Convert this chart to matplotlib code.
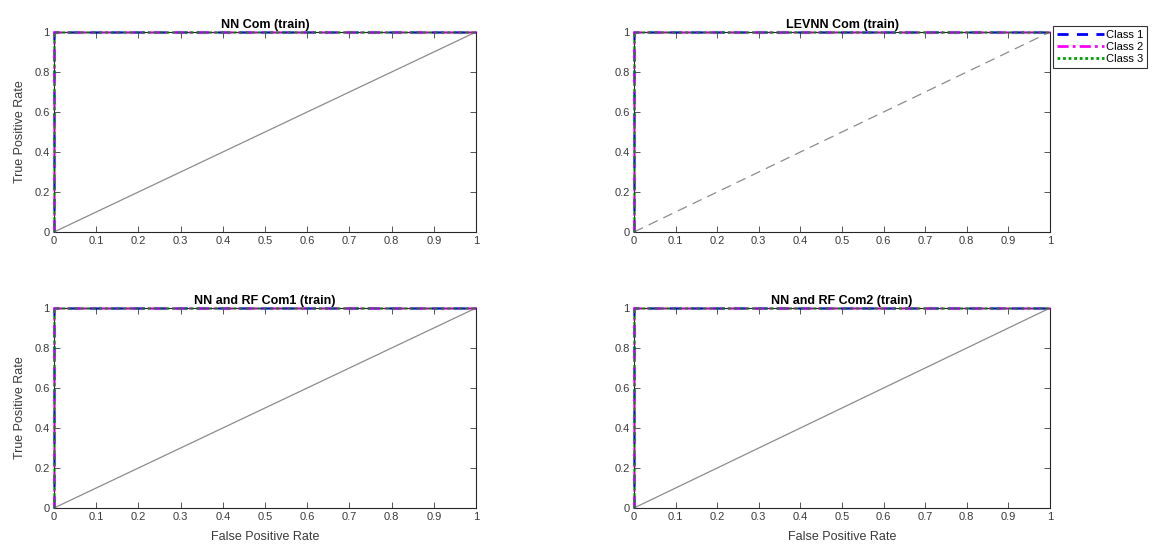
import matplotlib
matplotlib.use("Agg")
import matplotlib.pyplot as plt

plt.rcParams['font.family'] = ['Liberation Sans', 'DejaVu Sans']

titles = ["NN Com (train)", "LEVNN Com (train)", "NN and RF Com1 (train)", "NN and RF Com2 (train)"]
class_names = ["Class 1", "Class 2", "Class 3"]
fpr = [0.0, 0.0, 1.0]
tpr = [0.0, 1.0, 1.0]
diag_x = [0.0, 1.0]
diag_y = [0.0, 1.0]
diag_styles = ["-", "--", "-", "-"]
xticks = [0, 0.1, 0.2, 0.3, 0.4, 0.5, 0.6, 0.7, 0.8, 0.9, 1]
yticks = [0, 0.2, 0.4, 0.6, 0.8, 1]

colors = ["#0000ff", "#ff00ff", "#00a000"]
styles = [(0, (4, 3)), (0, (4, 1.5, 1, 1.5)), (0, (1, 1))]

W, H = 1173, 554
fig = plt.figure(figsize=(W / 100, H / 100), dpi=100)
boxes = [
    (54, 32, 476, 232),
    (634, 32, 1050, 232),
    (54, 308, 476, 508),
    (634, 308, 1050, 508),
]
txtc = "#3a3a3a"
handles = []
for i, (x0, y0, x1, y1) in enumerate(boxes):
    ax = fig.add_axes([x0 / W, 1 - y1 / H, (x1 - x0) / W, (y1 - y0) / H])
    if diag_styles[i] == "--":
        ax.plot(diag_x, diag_y, color="#8c8c8c", lw=0.9, ls=(0, (8, 5)))
    else:
        ax.plot(diag_x, diag_y, color="#8c8c8c", lw=0.9, ls="-")
    for c, col, st in zip(class_names, colors, styles):
        ax.plot(fpr, tpr, color=col, ls=st, lw=2.2, label=c,
                clip_on=False, zorder=3, alpha=0.6)
    ax.set_xlim(0, 1)
    ax.set_ylim(0, 1)
    ax.set_xticks(xticks)
    ax.set_xticklabels([f"{t:g}" for t in xticks])
    ax.set_yticks(yticks)
    ax.set_yticklabels([f"{t:g}" for t in yticks])
    ax.tick_params(direction="in", top=True, right=True, labelsize=8,
                   colors=txtc, length=4, width=0.6, pad=3)
    for s in ax.spines.values():
        s.set_color("#262626")
        s.set_linewidth(0.8)
    ax.set_title(titles[i], fontsize=9, fontweight="bold", color="black", pad=3)
    if i in (0, 2):
        ax.set_ylabel("True Positive Rate", fontsize=9, color=txtc, labelpad=6)
    if i in (2, 3):
        ax.set_xlabel("False Positive Rate", fontsize=9, color=txtc, labelpad=6)

leg_handles = []
for col, st in zip(colors, styles):
    lh, = plt.plot([], [], color=col, ls=st, lw=2.0)
    leg_handles.append(lh)
leg = fig.legend(leg_handles, class_names, loc="upper left",
                 bbox_to_anchor=(1053 / W, 1 - 26 / H), fontsize=8,
                 frameon=True, fancybox=False, edgecolor="black",
                 handlelength=4.2, handletextpad=0.2, borderpad=0.35,
                 labelspacing=0.2, borderaxespad=0)
leg.get_frame().set_linewidth(0.8)

fig.savefig("out.png", dpi=100)
